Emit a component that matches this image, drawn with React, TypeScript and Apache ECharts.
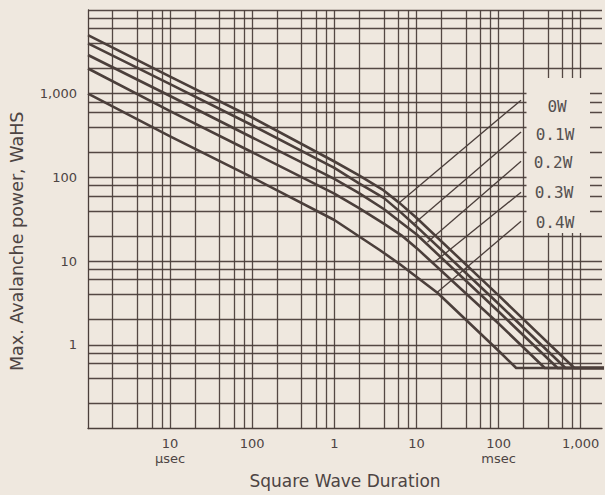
import React, { useEffect, useRef } from 'react';
import * as echarts from 'echarts';

// Square wave duration in microseconds, max avalanche power in watts
const curve0W = [[1, 5000], [10, 1600], [100, 520], [1000, 155], [2000, 106], [4000, 70], [6300, 49], [10000, 33], [100000, 3.9], [837000, 0.53], [2000000, 0.53]];
const curve01W = [[1, 4000], [10, 1300], [100, 420], [1000, 130], [2000, 85], [4000, 57], [6500, 38], [10000, 26], [100000, 3.1], [653000, 0.53], [2000000, 0.53]];
const curve02W = [[1, 2900], [10, 940], [100, 300], [1000, 96], [2000, 65], [4000, 42], [6500, 29], [10000, 21], [100000, 2.5], [524000, 0.53], [2000000, 0.53]];
const curve03W = [[1, 2000], [10, 620], [100, 200], [1000, 64], [2000, 43], [4000, 28], [6500, 20.5], [10000, 14.4], [100000, 1.8], [366000, 0.53], [2000000, 0.53]];
const curve04W = [[1, 1000], [10, 310], [100, 100], [1000, 31], [3600, 13.5], [6300, 9.2], [18000, 4.2], [100000, 0.85], [164000, 0.53], [2000000, 0.53]];

const curveNames = ['0W', '0.1W', '0.2W', '0.3W', '0.4W'];
const curves = [curve0W, curve01W, curve02W, curve03W, curve04W];

// arrows from each label to its curve
const arrowTails = [[188000, 838], [188000, 350], [188000, 156], [188000, 66.5], [188000, 29.9]];
const arrowHeads = [[6280, 50.5], [9500, 28.3], [13600, 16.8], [16500, 9.7], [17960, 4.24]];

// grid
const xDecades = [1, 10, 100, 1000, 10000, 100000, 1000000];
const yDecades = [0.1, 1, 10, 100, 1000, 10000];
const gridMultiples = [1, 2, 4, 6, 8];
const X_MIN = 1;
const X_MAX = 1820000;
const Y_MIN = 0.1;
const Y_MAX = 10000;

// tick labels by decade exponent
const xTickLabels: Record<number, string> = { 1: '10', 2: '100', 3: '1', 4: '10', 5: '100', 6: '1,000' };
const xTickUnits: Record<number, string> = { 1: 'µsec', 5: 'msec' };
const yTickLabels: Record<number, string> = { 0: '1', 1: '10', 2: '100', 3: '1,000' };

const BG = '#efe8df';
const INK = '#4b3f3b';
const TEXT = '#4d4443';

export default function App() {
  const ref = useRef<HTMLDivElement>(null);
  useEffect(() => {
    if (!ref.current) return;
    const chart = echarts.init(ref.current, undefined, { renderer: 'svg' });

    const xGrid: number[] = [];
    xDecades.forEach((d) => gridMultiples.forEach((m) => { const v = d * m; if (v > X_MIN && v <= X_MAX) xGrid.push(v); }));
    const yGrid: number[] = [];
    yDecades.forEach((d) => gridMultiples.forEach((m) => { const v = d * m; if (v > Y_MIN && v <= Y_MAX + 1e-9) yGrid.push(v); }));

    const expOf = (v: number) => {
      const l = Math.log10(v);
      const e = Math.round(l);
      return Math.abs(l - e) < 1e-6 ? e : null;
    };

    const labelStyle = { fontFamily: 'DejaVu Sans Mono', fontSize: 16, fill: '#555050' };

    chart.setOption({
      animation: false,
      backgroundColor: BG,
      grid: { left: 83.6, top: 10, right: 0, bottom: 66.4, containLabel: false },
      xAxis: {
        type: 'log',
        logBase: 10,
        min: X_MIN,
        max: X_MAX,
        name: 'Square Wave Duration',
        nameLocation: 'middle',
        nameGap: 44,
        nameTextStyle: { fontFamily: 'DejaVu Sans', fontSize: 17, color: TEXT },
        axisLine: { show: true, lineStyle: { color: INK, width: 1.3 } },
        axisTick: { show: false },
        splitLine: { show: false },
        axisLabel: {
          margin: 7,
          fontFamily: 'DejaVu Sans',
          fontSize: 13,
          color: TEXT,
          lineHeight: 15,
          formatter: (v: number) => {
            const e = expOf(v);
            if (e === null || !xTickLabels[e]) return '';
            return xTickUnits[e] ? `${xTickLabels[e]}\n{u|${xTickUnits[e]}}` : xTickLabels[e];
          },
          rich: { u: { fontFamily: 'DejaVu Sans', fontSize: 13, color: TEXT, lineHeight: 15 } },
        },
      },
      yAxis: {
        type: 'log',
        logBase: 10,
        min: Y_MIN,
        max: Y_MAX,
        name: 'Max. Avalanche power, WaHS',
        nameLocation: 'middle',
        nameGap: 62,
        nameRotate: 90,
        nameTextStyle: { fontFamily: 'DejaVu Sans', fontSize: 17.5, color: TEXT, padding: [0, 44, 0, 0] },
        axisLine: { show: true, lineStyle: { color: INK, width: 1.3 } },
        axisTick: { show: false },
        splitLine: { show: false },
        axisLabel: {
          margin: 11,
          fontFamily: 'DejaVu Sans',
          fontSize: 13,
          color: TEXT,
          formatter: (v: number) => {
            const e = expOf(v);
            return e === null ? '' : (yTickLabels[e] ?? '');
          },
        },
      },
      series: [
        {
          type: 'line',
          name: 'grid',
          data: [],
          silent: true,
          markLine: {
            silent: true,
            symbol: ['none', 'none'],
            label: { show: false },
            lineStyle: { type: 'solid', color: INK, width: 1.3, opacity: 0.95 },
            emphasis: { disabled: true },
            data: [
              ...xGrid.map((v) => ({ xAxis: v })),
              ...yGrid.map((v) => ({ yAxis: v })),
            ],
          },
        },
        ...curves.map((c, i) => ({
          type: 'line',
          name: curveNames[i],
          data: c,
          showSymbol: false,
          symbol: 'none',
          smooth: false,
          silent: true,
          lineStyle: { color: INK, width: 2.6, join: 'round' },
          z: 3,
        })),
        {
          type: 'line',
          name: 'arrows',
          data: [],
          silent: true,
          z: 4,
          markLine: {
            silent: true,
            symbol: ['none', 'arrow'],
            symbolSize: [0, 7],
            label: { show: false },
            lineStyle: { type: 'solid', color: INK, width: 1.3 },
            emphasis: { disabled: true },
            data: arrowTails.map((t, i) => [{ coord: t }, { coord: arrowHeads[i] }]),
          },
        },
      ],
      graphic: [
        { type: 'rect', z: 50, shape: { x: 526.5, y: 78, width: 63.5, height: 155 }, style: { fill: BG } },
        { type: 'text', z: 51, x: 557, y: 106, style: { ...labelStyle, text: curveNames[0], align: 'center', verticalAlign: 'middle' } },
        { type: 'text', z: 51, x: 555, y: 134, style: { ...labelStyle, text: curveNames[1], align: 'center', verticalAlign: 'middle' } },
        { type: 'text', z: 51, x: 553, y: 162, style: { ...labelStyle, text: curveNames[2], align: 'center', verticalAlign: 'middle' } },
        { type: 'text', z: 51, x: 554, y: 192, style: { ...labelStyle, text: curveNames[3], align: 'center', verticalAlign: 'middle' } },
        { type: 'text', z: 51, x: 555, y: 222, style: { ...labelStyle, text: curveNames[4], align: 'center', verticalAlign: 'middle' } },
      ],
    });
    return () => chart.dispose();
  }, []);
  return <div ref={ref} style={{ position: 'absolute', left: 0, top: 0, width: 605, height: 495 }} />;
}
